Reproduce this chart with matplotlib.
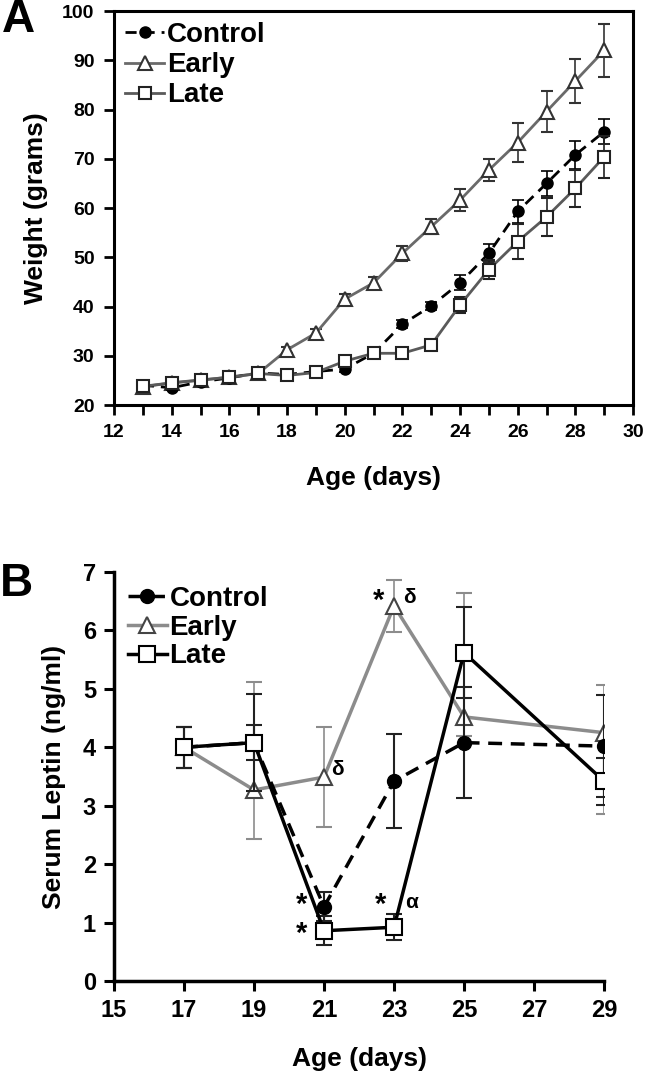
import matplotlib
matplotlib.use('Agg')
import matplotlib.pyplot as plt
import numpy as np

plt.rcParams['font.family'] = ['Liberation Sans', 'DejaVu Sans']
plt.rcParams['font.weight'] = 'bold'

# Panel A: body weight
age_a = [13, 14, 15, 16, 17, 18, 19, 20, 21, 22, 23, 24, 25, 26, 27, 28, 29]
ctrl_w = [24.0, 23.5, 24.7, 25.5, 26.5, 26.2, 26.8, 27.3, 30.5, 36.4, 40.1, 44.8, 50.8, 59.3, 65.0, 70.8, 75.5]
ctrl_w_err = [0.5, 0.4, 0.4, 0.4, 0.5, 0.5, 0.5, 0.5, 0.6, 0.8, 0.8, 1.5, 1.8, 2.4, 2.6, 2.8, 2.6]
early_w = [23.7, 24.5, 25.0, 25.7, 26.4, 31.2, 34.6, 41.5, 44.8, 50.8, 56.2, 61.6, 67.7, 73.3, 79.6, 85.8, 92.0]
early_w_err = [0.5, 0.4, 0.4, 0.4, 0.5, 0.6, 0.8, 1.0, 1.2, 1.5, 1.5, 2.2, 2.2, 4.0, 4.2, 4.5, 5.3]
late_w = [23.8, 24.5, 25.1, 25.6, 26.4, 26.0, 26.6, 28.9, 30.5, 30.5, 32.2, 40.3, 47.5, 53.2, 58.2, 64.0, 70.4]
late_w_err = [0.5, 0.4, 0.4, 0.4, 0.5, 0.5, 0.5, 0.6, 0.6, 0.6, 0.7, 1.6, 1.9, 3.6, 3.9, 3.8, 4.3]

# Panel B: serum leptin
age_b = [17, 19, 21, 23, 25, 29]
ctrl_l = [4.0, 4.08, 1.27, 3.42, 4.08, 4.02]
ctrl_l_err = [0.35, 0.3, 0.25, 0.8, 0.95, 0.87]
early_l = [4.0, 3.27, 3.49, 6.42, 4.52, 4.25]
early_l_lo = [0.35, 0.84, 0.86, 0.45, 0.32, 1.39]
early_l_hi = [0.35, 1.85, 0.86, 0.45, 2.12, 0.82]
late_l = [4.0, 4.08, 0.86, 0.92, 5.62, 3.42]
late_l_err = [0.35, 0.83, 0.25, 0.22, 0.78, 0.4]

# significance marks (x, y, text, size)
marks = [(20.35, 1.30, '*', 21), (20.35, 0.80, '*', 21), (22.62, 1.30, '*', 21),
         (23.5, 1.35, 'α', 15), (22.56, 6.5, '*', 21), (23.45, 6.56, 'δ', 15),
         (21.38, 3.62, 'δ', 15)]

fig = plt.figure(figsize=(6.49, 10.72), dpi=100)

# ---------------- A ----------------
ax1 = fig.add_axes([0.1757, 0.6222, 0.7997, 0.3675])
e_a = ax1.errorbar(age_a, early_w, yerr=early_w_err, color='#6a6a6a', lw=2, marker='^',
                   ms=9.5, mfc='white', mec='#333333', mew=1.5, ecolor='#333333',
                   elinewidth=1.2, capsize=4, capthick=1.2, zorder=3)
c_a = ax1.errorbar(age_a, ctrl_w, yerr=ctrl_w_err, color='black', lw=2, ls=(0, (4, 2.5)),
                   marker='o', ms=8, mfc='black', mec='black', ecolor='black',
                   elinewidth=1.2, capsize=4, capthick=1.2, zorder=4)
l_a = ax1.errorbar(age_a, late_w, yerr=late_w_err, color='#5a5a5a', lw=2, marker='s',
                   ms=8.5, mfc='white', mec='#222222', mew=1.5, ecolor='#222222',
                   elinewidth=1.2, capsize=4, capthick=1.2, zorder=5)
ax1.set_xlim(12, 30)
ax1.set_ylim(20, 100)
ax1.set_xticks(range(12, 31))
ax1.set_xticklabels([str(v) if v % 2 == 0 else '' for v in range(12, 31)])
ax1.set_yticks(range(20, 101, 10))
for s in ax1.spines.values():
    s.set_linewidth(2.2)
ax1.tick_params(direction='out', length=7, width=2, labelsize=14, pad=7)
ax1.set_xlabel('Age (days)', fontsize=19, fontweight='bold', labelpad=18)
ax1.set_ylabel('Weight (grams)', fontsize=19, fontweight='bold', labelpad=10)
ax1.legend([c_a[0], e_a[0], l_a[0]], ['Control', 'Early', 'Late'], loc='upper left',
           frameon=False, handlelength=1.4, handletextpad=0.1,
           labelspacing=0.15, borderaxespad=0.2, borderpad=0.2,
           prop={'weight': 'bold', 'size': 20})
fig.text(0.028, 0.981, 'A', fontsize=33, fontweight='bold', ha='center', va='center')

# ---------------- B ----------------
ax2 = fig.add_axes([0.1757, 0.0849, 0.755, 0.3815])
e_b = ax2.errorbar(age_b, early_l, yerr=[early_l_lo, early_l_hi], color='#8c8c8c', lw=2.5,
                   marker='^', ms=11, mfc='white', mec='#444444', mew=1.5, ecolor='#8c8c8c',
                   elinewidth=1.2, capsize=6, capthick=1.2, zorder=3)
c_b = ax2.errorbar(age_b, ctrl_l, yerr=ctrl_l_err, color='black', lw=2.5, ls=(0, (4, 2.5)),
                   marker='o', ms=10, mfc='black', mec='black', ecolor='#222222',
                   elinewidth=1.5, capsize=6, capthick=1.5, zorder=4)
l_b = ax2.errorbar(age_b, late_l, yerr=late_l_err, color='black', lw=2.5, marker='s',
                   ms=11, mfc='white', mec='black', mew=1.5, ecolor='#222222',
                   elinewidth=1.5, capsize=6, capthick=1.5, zorder=5)
ax2.set_xlim(15, 29)
ax2.set_ylim(0, 7)
ax2.set_xticks(range(15, 30, 2))
ax2.set_yticks(range(0, 8))
ax2.spines['top'].set_visible(False)
ax2.spines['right'].set_visible(False)
for s in ['left', 'bottom']:
    ax2.spines[s].set_linewidth(2.5)
ax2.tick_params(direction='out', length=7, width=2.2, labelsize=17, pad=6)
ax2.set_xlabel('Age (days)', fontsize=19, fontweight='bold', labelpad=18)
ax2.set_ylabel('Serum Leptin (ng/ml)', fontsize=19, fontweight='bold', labelpad=12)
ax2.legend([c_b[0], e_b[0], l_b[0]], ['Control', 'Early', 'Late'], loc='upper left',
           frameon=False, handlelength=1.4, handletextpad=0.1,
           labelspacing=0.1, borderaxespad=0.2, borderpad=0.3,
           bbox_to_anchor=(0.0, 1.0), prop={'weight': 'bold', 'size': 20})
for x, y, t, fs in marks:
    ax2.text(x, y, t, fontsize=fs, fontweight='bold', ha='center', va='center', zorder=6)
fig.text(0.025, 0.455, 'B', fontsize=33, fontweight='bold', ha='center', va='center')

fig.savefig('out.png', dpi=100)
